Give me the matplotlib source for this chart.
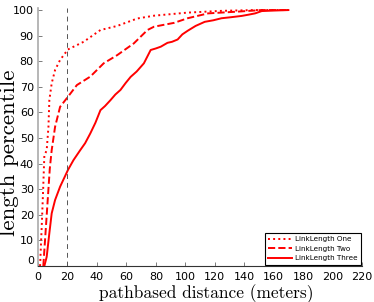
import matplotlib
matplotlib.use('Agg')
import matplotlib.pyplot as plt

# cumulative percentile curves
one_x = [1.4, 2.5, 3.5, 4.3, 5.9, 7.1, 7.7, 9.3, 11.6, 15.0, 20.3, 31.0, 42.4,
         53.8, 67.4, 78.8, 101.6, 125.0, 147.0, 170.0]
one_y = [0.0, 15.0, 30.0, 43.0, 45.3, 54.4, 64.8, 71.4, 76.6, 80.5, 84.6, 87.6,
         92.2, 93.8, 96.7, 97.8, 99.0, 99.7, 100.0, 100.0]

two_x = [3.6, 5.0, 6.5, 8.0, 9.3, 11.6, 15.0, 20.3, 26.4, 35.5, 44.6, 53.8,
         65.1, 74.3, 78.8, 92.4, 101.6, 115.5, 136.0, 151.7, 170.0]
two_y = [0.0, 12.0, 25.0, 38.0, 45.3, 54.4, 62.2, 66.1, 70.7, 74.0, 79.2, 82.4,
         87.0, 92.2, 93.5, 95.0, 96.8, 98.7, 99.4, 100.0, 100.0]

three_x = [4.3, 5.9, 7.7, 9.3, 11.6, 15.0, 20.3, 24.1, 28.7, 32.0, 35.5, 39.0,
           42.4, 45.5, 49.2, 52.5, 56.0, 59.5, 62.9, 67.0, 71.9, 76.5, 80.0,
           83.4, 87.9, 91.0, 94.8, 98.0, 101.6, 107.0, 113.2, 119.0, 124.6,
           131.0, 138.2, 143.0, 147.4, 151.9, 160.0, 170.0]
three_y = [0.0, 3.6, 12.8, 20.6, 25.8, 31.0, 37.5, 41.4, 45.3, 48.0, 51.8, 56.0,
           60.9, 62.5, 64.8, 67.0, 68.8, 71.5, 73.9, 76.0, 79.2, 84.4, 85.0,
           85.7, 87.2, 87.6, 88.5, 90.5, 91.9, 93.8, 95.4, 96.0, 96.8,
           97.2, 97.7, 98.2, 98.7, 99.6, 99.8, 100.0]

labels = ['LinkLength One', 'LinkLength Two', 'LinkLength Three']
x_ticks = list(range(0, 221, 20))
y_ticks = list(range(0, 101, 10))

fig = plt.figure(figsize=(3.74, 3.02), dpi=100)
ax = fig.add_axes([0.1016, 0.119, 0.8664, 0.8545])

ax.plot(one_x, one_y, color='red', linestyle=':', linewidth=1.4, label=labels[0])
ax.plot(two_x, two_y, color='red', linestyle='--', linewidth=1.4, label=labels[1])
ax.plot(three_x, three_y, color='red', linestyle='-', linewidth=1.4, label=labels[2])
ax.axvline(20, color='#555555', linestyle=(0, (5, 4)), linewidth=0.7)

ax.set_xlim(0, 220)
ax.set_ylim(0, 100.8)
ax.set_xticks(x_ticks)
ax.set_yticks(y_ticks)

for side in ['top', 'right']:
    ax.spines[side].set_visible(False)
ax.spines['left'].set_color('#aaaaaa')
ax.spines['left'].set_linewidth(1.2)
ax.spines['bottom'].set_color('#333333')
ax.spines['bottom'].set_linewidth(0.8)
ax.tick_params(direction='in', length=3, width=0.6, color='#666666',
               labelsize=8)
ax.tick_params(axis='x', pad=4)
ax.tick_params(axis='y', pad=3)
ax.get_yticklabels()[0].set_va('bottom')

ax.set_xlabel('pathbased distance (meters)', fontfamily='cmr10', fontsize=12.5)
ax.xaxis.set_label_coords(0.52, -0.072)
ax.set_ylabel('length percentile', fontfamily='cmr10', fontsize=16.5)
ax.yaxis.set_label_coords(-0.058, 0.44)

leg = ax.legend(loc='lower right', fontsize=5.2, fancybox=False, framealpha=1,
                edgecolor='black', handlelength=3.3, borderpad=0.45,
                labelspacing=0.5, handletextpad=0.4, borderaxespad=0.2,
                bbox_to_anchor=(1.0, 0.0))
leg.get_frame().set_linewidth(0.8)

fig.savefig('out.png', dpi=100)
